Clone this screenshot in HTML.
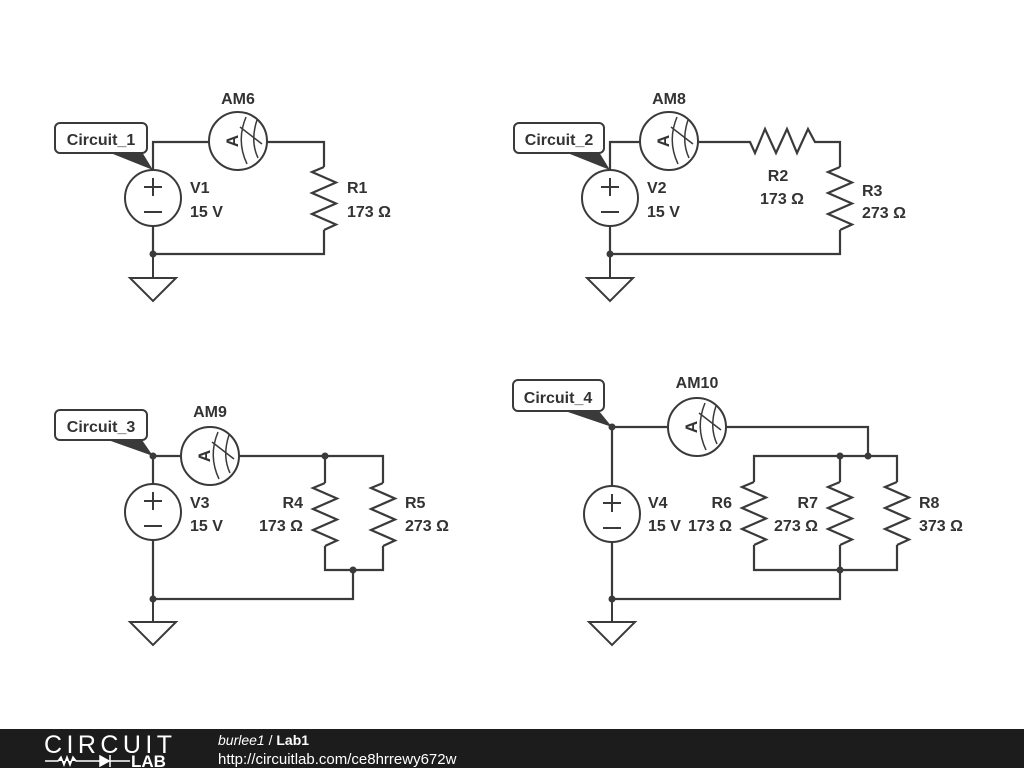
<!DOCTYPE html>
<html><head><meta charset="utf-8"><style>
html,body{margin:0;padding:0;background:#fff;}
svg{display:block;}
text{font-family:"Liberation Sans",sans-serif;font-weight:bold;font-size:16px;fill:#333;}
</style></head><body>
<svg width="1024" height="768" viewBox="0 0 1024 768" xmlns="http://www.w3.org/2000/svg">
<defs>
<g id="am">
<circle cx="0" cy="0" r="29" fill="#fff" stroke="#3a3a3a" stroke-width="2"/>
<text x="0" y="0" transform="translate(-6,0) rotate(-90)" text-anchor="middle" dy="6" style="font-size:17px">A</text>
<path d="M8,-24 Q-2,0 9,23" fill="none" stroke="#3a3a3a" stroke-width="1.5"/>
<path d="M19,-21 Q12,0 20,17" fill="none" stroke="#3a3a3a" stroke-width="1.5"/>
<path d="M2,-14 L24,3" fill="none" stroke="#3a3a3a" stroke-width="1.5"/>
</g>
<g id="vs">
<circle cx="0" cy="0" r="28" fill="#fff" stroke="#3a3a3a" stroke-width="2"/>
<path d="M-9,-11 H9 M0,-20 V-2 M-9,14 H9" stroke="#3a3a3a" stroke-width="2" fill="none"/>
</g>
<g id="gnd">
<path d="M0,0 V22 M-23,22 H23 L0,45 Z" fill="#fff" stroke="#3a3a3a" stroke-width="2"/>
</g>
<path id="rv" d="M0,0 L-12,5 L12,15.5 L-12,26 L12,36.5 L-12,47 L12,57.5 L0,63" fill="none" stroke="#3a3a3a" stroke-width="2.2"/>
</defs>
<g stroke="#3a3a3a" stroke-width="2.2" fill="none">
<path d="M153,170 V142 H324 V167 M324,230 V254 H153 V226"/>
<path d="M610,170 V142 H750 L755,153 L765,129 L776,153 L787,129 L797,153 L808,129 L815,142 H840 V167 M840,230 V254 H610 V226"/>
<path d="M153,484 V456 H383 V483 M325,456 V483 M325,546 V570 H383 V546 M353,570 V599 H153 V540"/>
<path d="M612,486 V427 H868 V456 M754,482 V456 H897 V482 M840,456 V482 M754,545 V570 H897 V545 M840,545 V599 H612 V542"/>
</g>
<use href="#am" x="238" y="141"/><use href="#vs" x="153" y="198"/>
<use href="#rv" x="324" y="167"/><use href="#gnd" x="153" y="256"/>
<use href="#am" x="669" y="141"/><use href="#vs" x="610" y="198"/>
<use href="#rv" x="840" y="167"/><use href="#gnd" x="610" y="256"/>
<use href="#am" x="210" y="456"/><use href="#vs" x="153" y="512"/>
<use href="#rv" x="325" y="483"/><use href="#rv" x="383" y="483"/><use href="#gnd" x="153" y="600"/>
<use href="#am" x="697" y="427"/><use href="#vs" x="612" y="514"/>
<use href="#rv" x="754" y="482"/><use href="#rv" x="840" y="482"/><use href="#rv" x="897" y="482"/><use href="#gnd" x="612" y="600"/>
<g fill="#3a3a3a">
<circle cx="153" cy="254" r="3.5"/><circle cx="610" cy="254" r="3.5"/>
<circle cx="153" cy="456" r="3.5"/><circle cx="325" cy="456" r="3.5"/><circle cx="353" cy="570" r="3.5"/><circle cx="153" cy="599" r="3.5"/>
<circle cx="612" cy="427" r="3.5"/><circle cx="840" cy="456" r="3.5"/><circle cx="868" cy="456" r="3.5"/><circle cx="840" cy="570" r="3.5"/><circle cx="612" cy="599" r="3.5"/>
<path d="M108,152 L142,152 L153,170 Z"/>
<path d="M565,152 L599,152 L610,170 Z"/>
<path d="M108,440 L142,440 L153,456 Z"/>
<path d="M565,411 L599,411 L612,427 Z"/>
</g>
<g fill="#fff" stroke="#3a3a3a" stroke-width="2">
<rect x="55" y="123" width="92" height="30" rx="5"/>
<rect x="514" y="123" width="90" height="30" rx="5"/>
<rect x="55" y="410" width="92" height="30" rx="5"/>
<rect x="513" y="380" width="91" height="31" rx="5"/>
</g>
<text x="101" y="145" text-anchor="middle">Circuit_1</text>
<text x="559" y="145" text-anchor="middle">Circuit_2</text>
<text x="101" y="432" text-anchor="middle">Circuit_3</text>
<text x="558" y="403" text-anchor="middle">Circuit_4</text>
<text x="238" y="104" text-anchor="middle">AM6</text>
<text x="190" y="193">V1</text><text x="190" y="217">15 V</text>
<text x="347" y="193">R1</text><text x="347" y="217">173 Ω</text>
<text x="669" y="104" text-anchor="middle">AM8</text>
<text x="647" y="193">V2</text><text x="647" y="217">15 V</text>
<text x="778" y="181" text-anchor="middle">R2</text><text x="782" y="204" text-anchor="middle">173 Ω</text>
<text x="862" y="196">R3</text><text x="862" y="218">273 Ω</text>
<text x="210" y="417" text-anchor="middle">AM9</text>
<text x="190" y="508">V3</text><text x="190" y="531">15 V</text>
<text x="303" y="508" text-anchor="end">R4</text><text x="303" y="531" text-anchor="end">173 Ω</text>
<text x="405" y="508">R5</text><text x="405" y="531">273 Ω</text>
<text x="697" y="388" text-anchor="middle">AM10</text>
<text x="648" y="508">V4</text><text x="648" y="531">15 V</text>
<text x="732" y="508" text-anchor="end">R6</text><text x="732" y="531" text-anchor="end">173 Ω</text>
<text x="818" y="508" text-anchor="end">R7</text><text x="818" y="531" text-anchor="end">273 Ω</text>
<text x="919" y="508">R8</text><text x="919" y="531">373 Ω</text>
<rect x="0" y="729" width="1024" height="39" fill="#1c1c1c"/>
<text x="44" y="753" style="font-weight:normal;font-size:25px;fill:#fff" textLength="128">CIRCUIT</text>
<path d="M45,761 H58 L61,757 L64,765 L67,757 L70,765 L73,757 L76,761 H100 M100,756 L109,761 L100,766 Z M110,755 V767 M110,761 H130" stroke="#fff" stroke-width="1.5" fill="#fff"/>
<text x="131" y="767" style="font-size:17px;fill:#fff">LAB</text>
<text x="218" y="745" style="font-weight:normal;font-style:italic;font-size:14px;fill:#fff">burlee1 <tspan style="font-style:normal">/</tspan> <tspan style="font-style:normal;font-weight:bold">Lab1</tspan></text>
<text x="218" y="764" style="font-weight:normal;font-size:15px;fill:#fff">http://circuitlab.com/ce8hrrewy672w</text>
</svg>
</body></html>
